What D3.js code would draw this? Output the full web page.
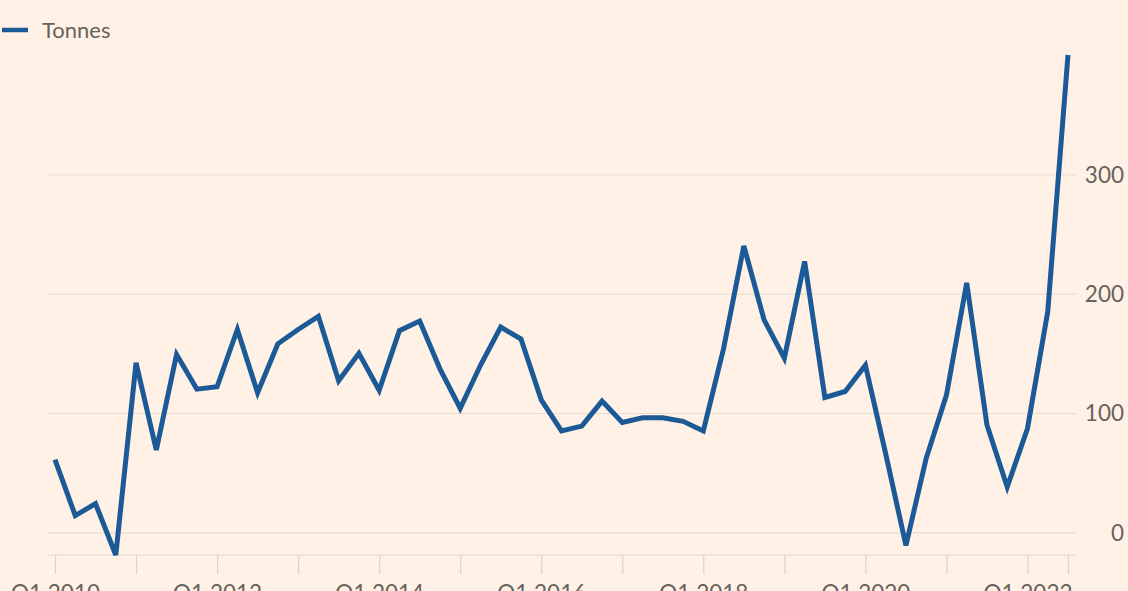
<!DOCTYPE html>
<html>
<head>
<meta charset="utf-8">
<script src="https://cdn.jsdelivr.net/npm/d3@7"></script>
<style>
  html, body { margin: 0; padding: 0; background: #fff1e5; overflow: hidden; }
  text { font-family: Lato, "Open Sans", sans-serif; fill: #68625d; }
</style>
</head>
<body>
<div id="chart"></div>
<script>
////////////////////////////////////////////////////////////////////////////////////////
// Data: quarterly tonnes, Q1 2010 - Q3 2022
var quarters = [
    "Q1 2010", "Q2 2010", "Q3 2010", "Q4 2010",
    "Q1 2011", "Q2 2011", "Q3 2011", "Q4 2011",
    "Q1 2012", "Q2 2012", "Q3 2012", "Q4 2012",
    "Q1 2013", "Q2 2013", "Q3 2013", "Q4 2013",
    "Q1 2014", "Q2 2014", "Q3 2014", "Q4 2014",
    "Q1 2015", "Q2 2015", "Q3 2015", "Q4 2015",
    "Q1 2016", "Q2 2016", "Q3 2016", "Q4 2016",
    "Q1 2017", "Q2 2017", "Q3 2017", "Q4 2017",
    "Q1 2018", "Q2 2018", "Q3 2018", "Q4 2018",
    "Q1 2019", "Q2 2019", "Q3 2019", "Q4 2019",
    "Q1 2020", "Q2 2020", "Q3 2020", "Q4 2020",
    "Q1 2021", "Q2 2021", "Q3 2021", "Q4 2021",
    "Q1 2022", "Q2 2022", "Q3 2022"
];

var tonnes = [
    61, 14, 24, -19,
    142, 69, 149, 120,
    122, 170, 117, 158,
    170, 181, 127, 150,
    119, 169, 177, 137,
    104, 140, 172, 162,
    111, 85, 89, 110,
    92, 96, 96, 93,
    85, 154, 240, 178,
    146, 227, 113, 118,
    140, 66, -11, 62,
    115, 209, 90, 38,
    87, 185, 400
];

// Ticks on each year plus the final quarter, labels every other year
var tickQuarters = ["Q1 2010", "Q1 2011", "Q1 2012", "Q1 2013", "Q1 2014", "Q1 2015", "Q1 2016",
    "Q1 2017", "Q1 2018", "Q1 2019", "Q1 2020", "Q1 2021", "Q1 2022", "Q3 2022"];
var labelQuarters = ["Q1 2010", "Q1 2012", "Q1 2014", "Q1 2016", "Q1 2018", "Q1 2020", "Q1 2022"];
var yTicks = [0, 100, 200, 300];

////////////////////////////////////////////////////////////////////////////////////////
var svgWidth = 1128;
var svgHeight = 591;

var svg = d3.select("#chart").append("svg")
    .attr("width", svgWidth)
    .attr("height", svgHeight);

svg.append("rect").attr("width", svgWidth).attr("height", svgHeight).attr("fill", "#fff1e5");

// Scales
var x = d3.scaleLinear().domain([0, quarters.length - 1]).range([55, 1068]);
var y = d3.scaleLinear().domain(d3.extent(tonnes)).range([555, 55]);

var gridLeft = x.range()[0] - 8;
var gridRight = x.range()[1] + 8;

// Y gridlines and labels
var yAxis = svg.append("g")
    .attr("transform", "translate(" + gridLeft + ",0)")
    .call(d3.axisRight(y).tickValues(yTicks).tickSize(gridRight - gridLeft).tickPadding(0));

yAxis.select(".domain").remove();
yAxis.selectAll("line").attr("stroke", "#e9ddd2").attr("stroke-width", 1.2);
yAxis.selectAll("text")
    .attr("x", 1124 - gridLeft)
    .attr("dy", "0.35em")
    .style("text-anchor", "end")
    .style("font-size", "22.5px");

// X axis
var xAxis = svg.append("g")
    .attr("transform", "translate(0," + y.range()[0] + ")")
    .call(d3.axisBottom(x)
        .tickValues(tickQuarters.map(q => quarters.indexOf(q)))
        .tickSize(19)
        .tickPadding(11)
        .tickFormat(i => labelQuarters.indexOf(quarters[i]) >= 0 ? quarters[i] : ""));

xAxis.select(".domain").remove();
xAxis.selectAll("line").attr("stroke", "#ddd3ca").attr("stroke-width", 1.2);
xAxis.selectAll("text").style("font-size", "22.5px");

xAxis.append("line")
    .attr("x1", gridLeft).attr("x2", gridRight - 1)
    .attr("y1", 0).attr("y2", 0)
    .attr("stroke", "#e3d8ce").attr("stroke-width", 1.2);

// The line
var line = d3.line()
    .x((d, i) => x(i))
    .y(d => y(d));

svg.append("path")
    .datum(tonnes)
    .attr("fill", "none")
    .attr("stroke", "#1b5a96")
    .attr("stroke-width", 5)
    .attr("stroke-linejoin", "miter")
    .attr("d", line);

// Legend
var legend = svg.append("g").attr("transform", "translate(2,30)");
legend.append("line")
    .attr("x1", 0).attr("x2", 26)
    .attr("stroke", "#1b5a96").attr("stroke-width", 4.5);
legend.append("text")
    .attr("x", 40).attr("dy", "0.35em")
    .style("font-size", "22px")
    .text("Tonnes");
</script>
</body>
</html>
